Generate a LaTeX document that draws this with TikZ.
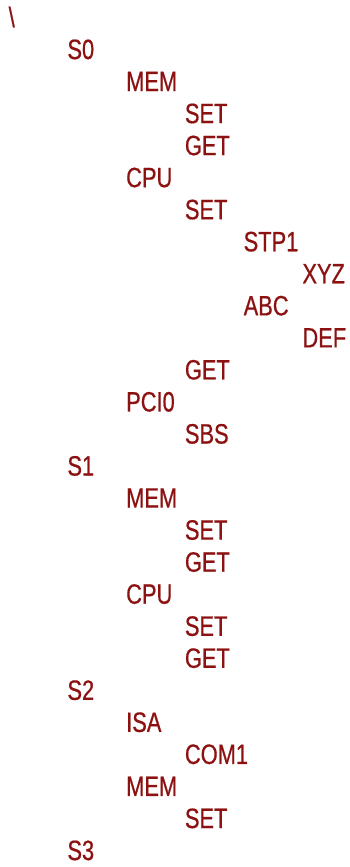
\documentclass[tikz,border=0pt]{standalone}
\usepackage{fontspec}
\setmainfont[FakeStretch=0.78,FakeBold=0.6]{Liberation Sans}
\usepackage{tikz}
\usetikzlibrary{positioning}
\definecolor{treered}{RGB}{140,18,18}
\tikzset{
  entry/.style={anchor=base west,inner sep=0pt,text=treered,
    font=\fontsize{28}{32}\selectfont},
}

\begin{document}
\begin{tikzpicture}[x=1pt,y=1pt]
  \useasboundingbox (0,0) rectangle (349,-867);
  % one row per entry: level/text, 32pt row pitch, 58.75pt indent
  \foreach \lv/\txt [count=\r from 0] in {0/\textbackslash, 1/S0, 2/MEM, 3/SET, 3/GET,
      2/CPU, 3/SET, 4/STP1, 5/XYZ, 4/ABC, 5/DEF, 3/GET, 2/PCI0, 3/SBS,
      1/S1, 2/MEM, 3/SET, 3/GET, 2/CPU, 3/SET, 3/GET,
      1/S2, 2/ISA, 3/COM1, 2/MEM, 3/SET, 1/S3}{
    \node[entry] (r\r) at (8.5+58.75*\lv, -27-32.04*\r) {\txt};
  }
\end{tikzpicture}
\end{document}
